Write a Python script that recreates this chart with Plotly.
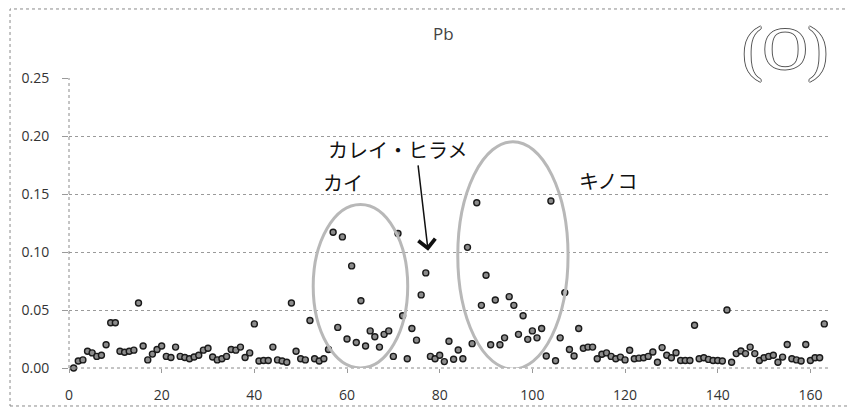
import plotly.graph_objects as go

# Pb concentrations by sample number
pb_low_1 = [0.000, 0.006, 0.007, 0.0145, 0.013, 0.010, 0.011, 0.020, 0.039, 0.039,
            0.0145, 0.0136, 0.0145, 0.0154, 0.056, 0.019, 0.007, 0.012, 0.016, 0.019,
            0.010, 0.009, 0.018, 0.010, 0.009, 0.008, 0.0095, 0.011, 0.0154, 0.017,
            0.0095, 0.007, 0.008, 0.010, 0.016, 0.0154, 0.018, 0.009, 0.013, 0.038,
            0.006, 0.0065, 0.0065, 0.018, 0.007, 0.006, 0.005, 0.056, 0.0145, 0.008,
            0.007, 0.041, 0.008, 0.006, 0.008, 0.016]
pb_kai = [0.117, 0.035, 0.113, 0.025, 0.088, 0.022, 0.058, 0.019, 0.032, 0.027,
          0.018, 0.029, 0.032, 0.010, 0.116, 0.045, 0.008, 0.034, 0.024, 0.063,
          0.082, 0.010, 0.008, 0.011, 0.0055, 0.023, 0.0075, 0.0155, 0.008]
pb_kinoko = [0.104, 0.021, 0.1425, 0.054, 0.080, 0.020, 0.0586, 0.020, 0.026, 0.0615,
             0.054, 0.029, 0.045, 0.0247, 0.032, 0.026, 0.034, 0.0103, 0.144, 0.0063,
             0.026, 0.065, 0.016, 0.0103, 0.034]
pb_low_2 = [0.017, 0.018, 0.018, 0.008, 0.0118, 0.013, 0.010, 0.008, 0.0094, 0.007,
            0.0153, 0.008, 0.0085, 0.0088, 0.010, 0.0138, 0.005, 0.0176, 0.011, 0.0088,
            0.0132, 0.0065, 0.0065, 0.0065, 0.0368, 0.008, 0.0088, 0.0074, 0.0065, 0.0065,
            0.006, 0.050, 0.005, 0.0124, 0.0147, 0.0124, 0.018, 0.0124, 0.0065, 0.0088,
            0.010, 0.011, 0.005, 0.0094, 0.0203, 0.008, 0.007, 0.006, 0.0203, 0.0065,
            0.0088, 0.0088, 0.038, 0.0218]

pb = pb_low_1 + pb_kai + pb_kinoko + pb_low_2
sample_no = list(range(1, len(pb) + 1))

y_ticks = [0.00, 0.05, 0.10, 0.15, 0.20, 0.25]
x_ticks = [0, 20, 40, 60, 80, 100, 120, 140, 160]

fig = go.Figure()
fig.add_trace(go.Scatter(
    x=sample_no, y=pb, mode="markers", cliponaxis=False,
    marker=dict(size=6, color="#8c8c8c", line=dict(color="#1a1a1a", width=1.4)),
    showlegend=False))

tick_font = dict(family="Open Sans", size=14, color="#333")

# page body adds an 8px margin, so the figure is 8px smaller than the window
fig.update_layout(
    width=847, height=402,
    margin=dict(l=61, r=27, t=70, b=42),
    paper_bgcolor="white", plot_bgcolor="white",
    xaxis=dict(range=[0, 163.8], tickvals=x_ticks, showgrid=False, zeroline=False,
               automargin=False, ticks="outside", ticklen=4, tickcolor="#9a9a9a",
               ticklabelstandoff=10, tickfont=tick_font),
    yaxis=dict(range=[0, 0.25], tickvals=y_ticks, tickformat=".2f", automargin=False,
               showgrid=True, gridcolor="#9a9a9a", griddash="dot", gridwidth=1,
               zeroline=False, showline=False, ticks="outside", ticklen=6,
               tickcolor="#9a9a9a", ticklabelstandoff=10, tickfont=tick_font),
)

# dotted axis lines and outer frame
dot = dict(color="#8a8a8a", width=1, dash="dot")
fig.add_shape(type="line", xref="paper", yref="paper", x0=0, x1=1, y0=0, y1=0, line=dot)
fig.add_shape(type="line", xref="paper", yref="paper", x0=0, x1=0, y0=0, y1=1, line=dot)
fig.add_shape(type="rect", xref="paper", yref="paper",
              x0=-0.0777, x1=1.029, y0=-0.131, y1=1.238, line=dot)

# grouping ellipses
ring = dict(color="#b8b8b8", width=3)
fig.add_shape(type="circle", xref="x", yref="y", x0=52.7, x1=73.1, y0=0.0, y1=0.141, line=ring)
fig.add_shape(type="circle", xref="x", yref="y", x0=83.9, x1=107.7, y0=-0.001, y1=0.195, line=ring)

jp = dict(family="Noto Sans CJK JP", size=20, color="#111")
fig.add_annotation(x=59.1, y=0.160, xref="x", yref="y", text="カイ", showarrow=False, font=jp)
fig.add_annotation(x=116.5, y=0.162, xref="x", yref="y", text="キノコ", showarrow=False, font=jp)
fig.add_annotation(x=70.8, y=0.188, xref="x", yref="y", text="カレイ・ヒラメ", showarrow=False, font=jp)
fig.add_annotation(x=77.5, y=0.101, ax=75.3, ay=0.176, xref="x", yref="y", axref="x", ayref="y",
                   text="", showarrow=True, arrowhead=4, arrowsize=2.2, arrowwidth=1.5,
                   arrowcolor="#111")

fig.add_annotation(x=0.4928, y=1.152, xref="paper", yref="paper", text="Pb", showarrow=False,
                   xanchor="center", yanchor="middle",
                   font=dict(family="Open Sans", size=17, color="#444"))
fig.add_annotation(x=0.943, y=1.10, xref="paper", yref="paper", text="(O)", showarrow=False,
                   xanchor="center", yanchor="middle",
                   font=dict(family="Liberation Serif", size=62, color="white",
                             shadow="1px 0 0 #555, -1px 0 0 #555, 0 1px 0 #555, 0 -1px 0 #555"))

fig.write_html("out.html")
